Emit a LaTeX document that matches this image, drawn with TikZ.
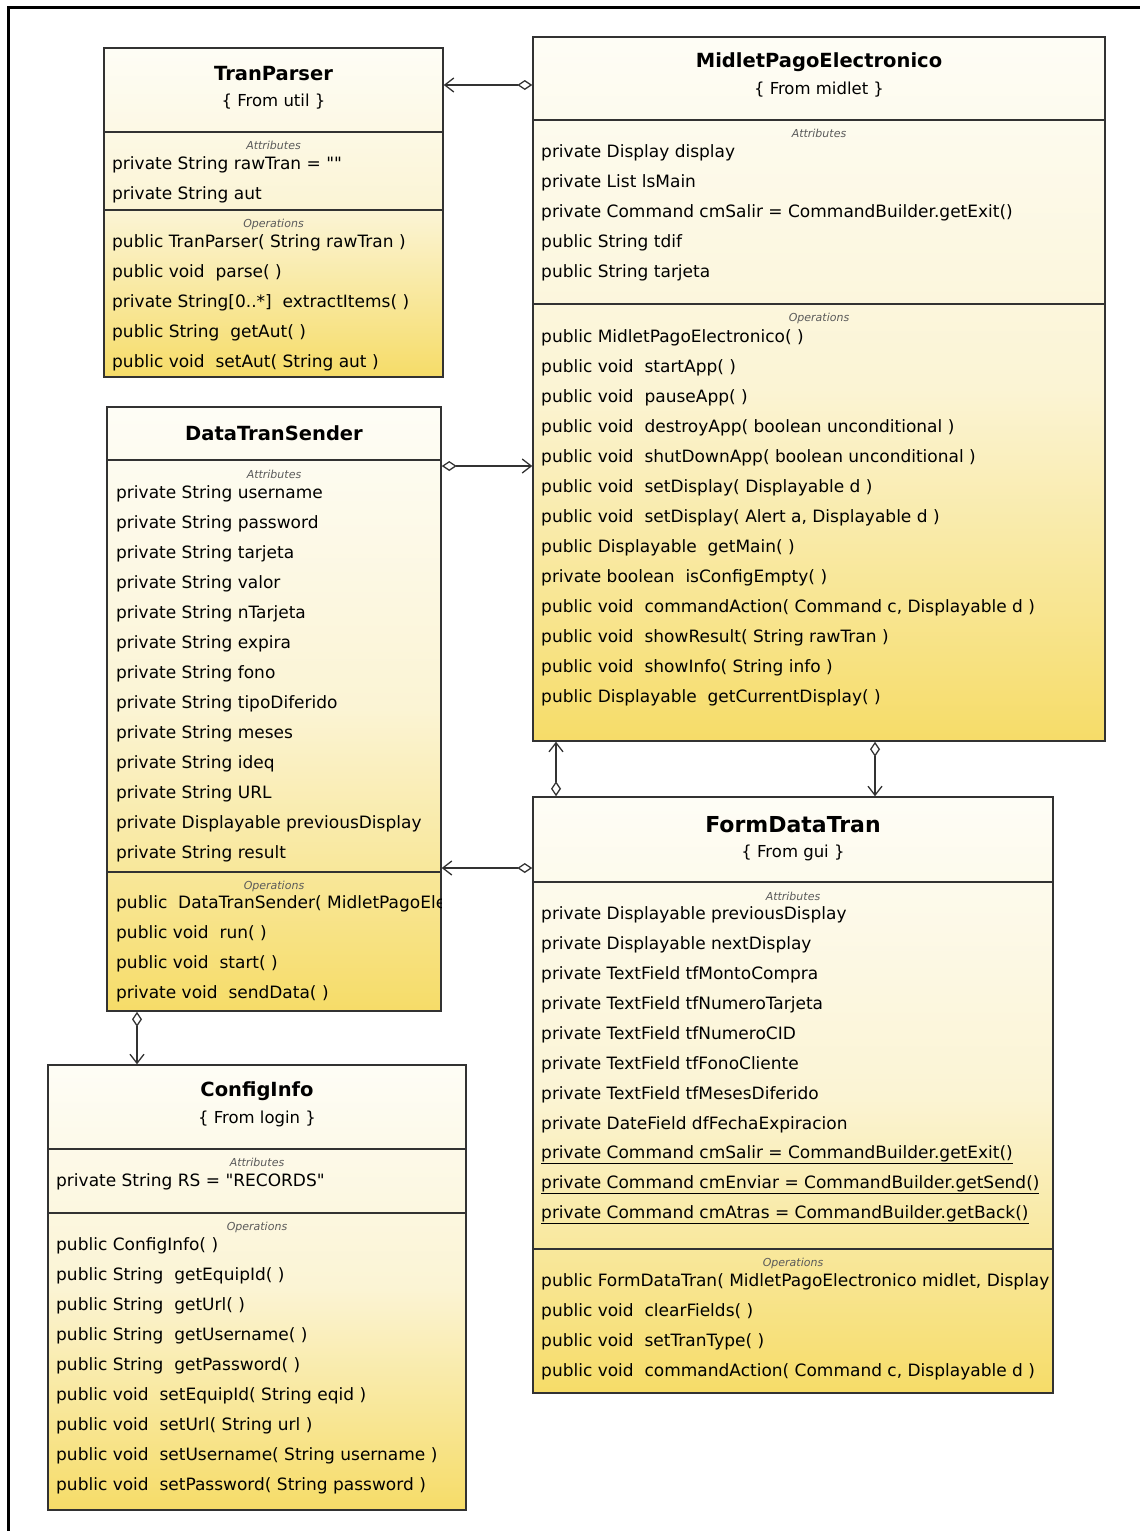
\documentclass[tikz,border=0pt]{standalone}
\usepackage{fontspec}
\setmainfont{DejaVu Sans}
\usetikzlibrary{arrows.meta}
\definecolor{umltop}{RGB}{254,253,246}
\definecolor{umlmid}{RGB}{251,244,212}
\definecolor{umlbot}{RGB}{246,220,104}
\definecolor{umlline}{RGB}{50,50,50}
\definecolor{compgray}{RGB}{90,90,90}

\begin{document}
\begin{tikzpicture}[x=1pt, y=-1pt,
    umlbox/.style={rectangle, draw=umlline, line width=1.5pt, top color=umltop, bottom color=umlbot, middle color=umlmid, inner sep=0pt},
    sepline/.style={draw=umlline, line width=1.5pt},
    classname/.style={font=\fontsize{19.5}{21}\selectfont\bfseries, inner sep=0pt},
    pkgname/.style={font=\fontsize{16.5}{18}\selectfont, inner sep=0pt},
    complabel/.style={font=\fontsize{11}{12}\selectfont\itshape, text=compgray, inner sep=0pt},
    member/.style={anchor=west, font=\fontsize{17}{19}\selectfont, inner sep=0pt},
    assoc/.style={draw=umlline, line width=1.3pt, {Diamond[open,length=15pt,width=10pt]}-{Straight Barb[length=9pt,width=14pt]}},
    frameline/.style={line width=3pt}
]
\useasboundingbox (0,0) rectangle (1140,1531);
\draw[frameline] (8,1531) -- (8,7) -- (1140,7);

% TranParser
\node[umlbox, minimum width=339pt, minimum height=329pt] (tranparser) at (273.5,212.5) {};
\draw[sepline] (tranparser.west |- 0,132) -- (tranparser.east |- 0,132);
\draw[sepline] (tranparser.west |- 0,210) -- (tranparser.east |- 0,210);
\node[classname] (tpTitle) at (273.5,74) {TranParser};
\node[pkgname] (tpPkg) at (273.5,102) {\{ From util \}};
\node[complabel] (tpAttr) at (273.5,145) {Attributes};
\node[member] (tpA1) at (112,165) {private String rawTran = \textquotedbl\textquotedbl};
\node[member] (tpA2) at (112,195) {private String aut};
\node[complabel] (tpOps) at (273.5,224) {Operations};
\node[member] (tpO1) at (112,243) {public TranParser( String rawTran )};
\node[member] (tpO2) at (112,273) {public void~~parse( )};
\node[member] (tpO3) at (112,303) {private String[0..*]~~extractItems( )};
\node[member] (tpO4) at (112,333) {public String~~getAut( )};
\node[member] (tpO5) at (112,363) {public void~~setAut( String aut )};

% MidletPagoElectronico
\node[umlbox, minimum width=572pt, minimum height=704pt] (midlet) at (819,389) {};
\draw[sepline] (midlet.west |- 0,120) -- (midlet.east |- 0,120);
\draw[sepline] (midlet.west |- 0,304) -- (midlet.east |- 0,304);
\node[classname] (mpTitle) at (819,62) {MidletPagoElectronico};
\node[pkgname] (mpPkg) at (819,90) {\{ From midlet \}};
\node[complabel] (mpAttr) at (819,133) {Attributes};
\node[member] (mpA1) at (541,153) {private Display display};
\node[member] (mpA2) at (541,183) {private List lsMain};
\node[member] (mpA3) at (541,213) {private Command cmSalir = CommandBuilder.getExit()};
\node[member] (mpA4) at (541,243) {public String tdif};
\node[member] (mpA5) at (541,273) {public String tarjeta};
\node[complabel] (mpOps) at (819,318) {Operations};
\node[member] (mpO1) at (541,338) {public MidletPagoElectronico( )};
\node[member] (mpO2) at (541,368) {public void~~startApp( )};
\node[member] (mpO3) at (541,398) {public void~~pauseApp( )};
\node[member] (mpO4) at (541,428) {public void~~destroyApp( boolean unconditional )};
\node[member] (mpO5) at (541,458) {public void~~shutDownApp( boolean unconditional )};
\node[member] (mpO6) at (541,488) {public void~~setDisplay( Displayable d )};
\node[member] (mpO7) at (541,518) {public void~~setDisplay( Alert a, Displayable d )};
\node[member] (mpO8) at (541,548) {public Displayable~~getMain( )};
\node[member] (mpO9) at (541,578) {private boolean~~isConfigEmpty( )};
\node[member] (mpO10) at (541,608) {public void~~commandAction( Command c, Displayable d )};
\node[member] (mpO11) at (541,638) {public void~~showResult( String rawTran )};
\node[member] (mpO12) at (541,668) {public void~~showInfo( String info )};
\node[member] (mpO13) at (541,698) {public Displayable~~getCurrentDisplay( )};

% DataTranSender
\node[umlbox, minimum width=334pt, minimum height=604pt] (sender) at (274,709) {};
\draw[sepline] (sender.west |- 0,460) -- (sender.east |- 0,460);
\draw[sepline] (sender.west |- 0,872) -- (sender.east |- 0,872);
\node[classname] (dsTitle) at (274,433) {DataTranSender};
\node[complabel] (dsAttr) at (274,474) {Attributes};
\node[member] (dsA1) at (116,494) {private String username};
\node[member] (dsA2) at (116,524) {private String password};
\node[member] (dsA3) at (116,554) {private String tarjeta};
\node[member] (dsA4) at (116,584) {private String valor};
\node[member] (dsA5) at (116,614) {private String nTarjeta};
\node[member] (dsA6) at (116,644) {private String expira};
\node[member] (dsA7) at (116,674) {private String fono};
\node[member] (dsA8) at (116,704) {private String tipoDiferido};
\node[member] (dsA9) at (116,734) {private String meses};
\node[member] (dsA10) at (116,764) {private String ideq};
\node[member] (dsA11) at (116,794) {private String URL};
\node[member] (dsA12) at (116,824) {private Displayable previousDisplay};
\node[member] (dsA13) at (116,854) {private String result};
\node[complabel] (dsOps) at (274,886) {Operations};
\begin{scope}
  \clip (sender.north west) rectangle (sender.south east);
  \node[member] (dsO1) at (116,904) {public~~DataTranSender( MidletPagoEle};
\end{scope}
\node[member] (dsO2) at (116,934) {public void~~run( )};
\node[member] (dsO3) at (116,964) {public void~~start( )};
\node[member] (dsO4) at (116,994) {private void~~sendData( )};

% ConfigInfo
\node[umlbox, minimum width=418pt, minimum height=445pt] (config) at (257,1287.5) {};
\draw[sepline] (config.west |- 0,1149) -- (config.east |- 0,1149);
\draw[sepline] (config.west |- 0,1213) -- (config.east |- 0,1213);
\node[classname] (ciTitle) at (257,1091) {ConfigInfo};
\node[pkgname] (ciPkg) at (257,1119) {\{ From login \}};
\node[complabel] (ciAttr) at (257,1162) {Attributes};
\node[member] (ciA1) at (56,1182) {private String RS = \textquotedbl RECORDS\textquotedbl};
\node[complabel] (ciOps) at (257,1227) {Operations};
\node[member] (ciO1) at (56,1246) {public ConfigInfo( )};
\node[member] (ciO2) at (56,1276) {public String~~getEquipId( )};
\node[member] (ciO3) at (56,1306) {public String~~getUrl( )};
\node[member] (ciO4) at (56,1336) {public String~~getUsername( )};
\node[member] (ciO5) at (56,1366) {public String~~getPassword( )};
\node[member] (ciO6) at (56,1396) {public void~~setEquipId( String eqid )};
\node[member] (ciO7) at (56,1426) {public void~~setUrl( String url )};
\node[member] (ciO8) at (56,1456) {public void~~setUsername( String username )};
\node[member] (ciO9) at (56,1486) {public void~~setPassword( String password )};

% FormDataTran
\node[umlbox, minimum width=520pt, minimum height=596pt] (form) at (793,1095) {};
\draw[sepline] (form.west |- 0,882) -- (form.east |- 0,882);
\draw[sepline] (form.west |- 0,1249) -- (form.east |- 0,1249);
\node[classname, font=\fontsize{22}{24}\selectfont\bfseries] (fdTitle) at (793,825) {FormDataTran};
\node[pkgname] (fdPkg) at (793,853) {\{ From gui \}};
\node[complabel] (fdAttr) at (793,896) {Attributes};
\node[member] (fdA1) at (541,915) {private Displayable previousDisplay};
\node[member] (fdA2) at (541,945) {private Displayable nextDisplay};
\node[member] (fdA3) at (541,975) {private TextField tfMontoCompra};
\node[member] (fdA4) at (541,1005) {private TextField tfNumeroTarjeta};
\node[member] (fdA5) at (541,1035) {private TextField tfNumeroCID};
\node[member] (fdA6) at (541,1065) {private TextField tfFonoCliente};
\node[member] (fdA7) at (541,1095) {private TextField tfMesesDiferido};
\node[member] (fdA8) at (541,1125) {private DateField dfFechaExpiracion};
\node[member] (fdA9) at (541,1155) {\underline{private Command cmSalir = CommandBuilder.getExit()}};
\node[member] (fdA10) at (541,1185) {\underline{private Command cmEnviar = CommandBuilder.getSend()}};
\node[member] (fdA11) at (541,1215) {\underline{private Command cmAtras = CommandBuilder.getBack()}};
\node[complabel] (fdOps) at (793,1263) {Operations};
\begin{scope}
  \clip (form.north west) rectangle (form.south east);
  \node[member] (fdO1) at (541,1282) {public FormDataTran( MidletPagoElectronico midlet, Display};
\end{scope}
\node[member] (fdO2) at (541,1312) {public void~~clearFields( )};
\node[member] (fdO3) at (541,1342) {public void~~setTranType( )};
\node[member] (fdO4) at (541,1372) {public void~~commandAction( Command c, Displayable d )};

% associations
\draw[assoc] (midlet.west |- 0,85) -- (tranparser.east |- 0,85);
\draw[assoc] (sender.east |- 0,466) -- (midlet.west |- 0,466);
\draw[assoc] (form.west |- 0,868) -- (sender.east |- 0,868);
\draw[assoc] (form.north -| 556,0) -- (midlet.south -| 556,0);
\draw[assoc] (midlet.south -| 875,0) -- (form.north -| 875,0);
\draw[assoc] (sender.south -| 137,0) -- (config.north -| 137,0);

\end{tikzpicture}
\end{document}
